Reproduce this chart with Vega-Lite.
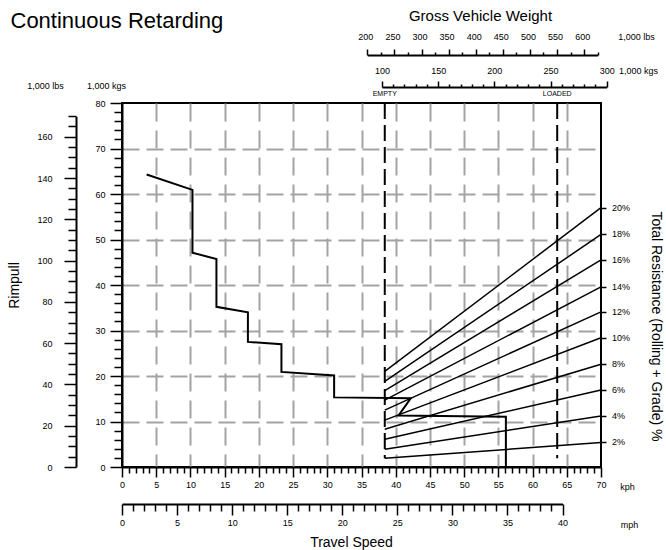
{
  "$schema": "https://vega.github.io/schema/vega-lite/v6.json",
  "width": 479,
  "height": 364,
  "autosize": {"type": "none"},
  "padding": {"left": 122, "top": 103, "right": 65, "bottom": 83},
  "background": "white",
  "config": {
    "view": {"stroke": "black", "strokeWidth": 2},
    "font": "Liberation Sans",
    "axis": {
      "labelFont": "Liberation Sans", "labelFontSize": 9, "labelColor": "black",
      "titleFont": "Liberation Sans", "titleFontWeight": "normal", "titleColor": "black", "titleFontSize": 9,
      "domainColor": "black", "domainWidth": 2, "tickColor": "black", "tickWidth": 1.5,
      "grid": false, "labelFlush": false, "labelOverlap": false,
      "titleAlign": "center", "titleBaseline": "middle"
    },
    "text": {"font": "Liberation Sans"}
  },
  "datasets": {
    "curve": [
      {"i": 1, "kph": 3.6, "kg": 64.3},
      {"i": 2, "kph": 10.3, "kg": 60.9},
      {"i": 3, "kph": 10.3, "kg": 47.1},
      {"i": 4, "kph": 13.8, "kg": 45.7},
      {"i": 5, "kph": 13.8, "kg": 35.2},
      {"i": 6, "kph": 18.4, "kg": 34.0},
      {"i": 7, "kph": 18.4, "kg": 27.5},
      {"i": 8, "kph": 23.3, "kg": 27.0},
      {"i": 9, "kph": 23.3, "kg": 20.9},
      {"i": 10, "kph": 31.0, "kg": 20.1},
      {"i": 11, "kph": 31.0, "kg": 15.3},
      {"i": 12, "kph": 42.2, "kg": 15.1},
      {"i": 13, "kph": 40.4, "kg": 11.3},
      {"i": 14, "kph": 56.1, "kg": 11.05},
      {"i": 15, "kph": 56.1, "kg": 0}
    ],
    "resistance": [
      {"grade": "20%", "kph": 38.4, "kg": 21.0}, {"grade": "20%", "kph": 70, "kg": 57.0},
      {"grade": "18%", "kph": 38.4, "kg": 18.8}, {"grade": "18%", "kph": 70, "kg": 51.1},
      {"grade": "16%", "kph": 38.4, "kg": 16.8}, {"grade": "16%", "kph": 70, "kg": 45.5},
      {"grade": "14%", "kph": 38.4, "kg": 14.7}, {"grade": "14%", "kph": 70, "kg": 39.6},
      {"grade": "12%", "kph": 38.4, "kg": 12.5}, {"grade": "12%", "kph": 70, "kg": 34.1},
      {"grade": "10%", "kph": 38.4, "kg": 10.3}, {"grade": "10%", "kph": 70, "kg": 28.4},
      {"grade": "8%", "kph": 38.4, "kg": 8.3}, {"grade": "8%", "kph": 70, "kg": 22.6},
      {"grade": "6%", "kph": 38.4, "kg": 6.1}, {"grade": "6%", "kph": 70, "kg": 16.9},
      {"grade": "4%", "kph": 38.4, "kg": 3.9}, {"grade": "4%", "kph": 70, "kg": 11.2},
      {"grade": "2%", "kph": 38.4, "kg": 1.9}, {"grade": "2%", "kph": 70, "kg": 5.4}
    ],
    "markers": [
      {"name": "EMPTY", "kph": 38.4, "top": 80, "bottom": 1.9},
      {"name": "LOADED", "kph": 63.6, "top": 80, "bottom": 1.9}
    ]
  },
  "layer": [
    {
      "data": {"name": "curve"},
      "mark": {"type": "line", "color": "black", "strokeWidth": 2, "strokeJoin": "miter"},
      "encoding": {
        "x": {"field": "kph", "type": "quantitative", "scale": {"domain": [0, 70], "nice": false},
          "axis": {"orient": "bottom",
            "values": [0,1,2,3,4,5,6,7,8,9,10,11,12,13,14,15,16,17,18,19,20,21,22,23,24,25,26,27,28,29,30,31,32,33,34,35,36,37,38,39,40,41,42,43,44,45,46,47,48,49,50,51,52,53,54,55,56,57,58,59,60,61,62,63,64,65,66,67,68,69,70],
            "tickSize": {"condition": {"test": "datum.value % 5 == 0", "value": 10}, "value": 6},
            "labelExpr": "datum.value % 5 == 0 ? datum.label : ''",
            "labelPadding": 3,
            "grid": true, "gridColor": "#a3a3a3", "gridWidth": 2, "gridDash": [18, 9],
            "gridOpacity": {"condition": {"test": "datum.value % 5 != 0 || datum.value == 0 || datum.value == 70", "value": 0}, "value": 1},
            "title": "kph", "titleAngle": 0, "titleX": 505, "titleY": 19}},
        "y": {"field": "kg", "type": "quantitative", "scale": {"domain": [0, 80], "nice": false},
          "axis": {"orient": "left",
            "values": [0,2,4,6,8,10,12,14,16,18,20,22,24,26,28,30,32,34,36,38,40,42,44,46,48,50,52,54,56,58,60,62,64,66,68,70,72,74,76,78,80],
            "tickSize": {"condition": {"test": "datum.value % 10 == 0", "value": 12}, "value": 8},
            "labelExpr": "datum.value % 10 == 0 ? datum.label : ''",
            "labelPadding": 5,
            "grid": true, "gridColor": "#a3a3a3", "gridWidth": 2, "gridDash": [17, 7],
            "gridOpacity": {"condition": {"test": "datum.value % 10 != 0 || datum.value == 0 || datum.value == 80", "value": 0}, "value": 1},
            "title": "1,000 kgs", "titleAngle": 0, "titleX": -16, "titleY": -18}},
        "order": {"field": "i", "type": "quantitative"}
      }
    },
    {
      "data": {"name": "resistance"},
      "mark": {"type": "line", "color": "black", "strokeWidth": 1.5},
      "encoding": {
        "x": {"field": "kph", "type": "quantitative", "scale": {"domain": [0, 70], "nice": false},
          "axis": {"orient": "bottom", "domain": false, "ticks": false, "labels": false,
            "title": "Travel Speed", "titleAngle": 0, "titleX": 229, "titleY": 75, "titleFontSize": 14}},
        "y": {"field": "kg", "type": "quantitative", "scale": {"domain": [0, 80], "nice": false},
          "axis": {"orient": "left", "domain": false, "ticks": false, "labels": false,
            "title": "Rimpull", "titleAngle": -90, "titleX": -108, "titleY": 182, "titleFontSize": 14}},
        "detail": {"field": "grade"}
      }
    },
    {
      "data": {"name": "markers"},
      "mark": {"type": "rule", "color": "black", "strokeWidth": 2, "strokeDash": [16, 6]},
      "encoding": {
        "x": {"field": "kph", "type": "quantitative", "scale": {"domain": [0, 70], "nice": false}, "axis": null},
        "y": {"field": "top", "type": "quantitative", "scale": {"domain": [0, 80], "nice": false}, "axis": null},
        "y2": {"field": "bottom"}
      }
    },
    {
      "data": {"name": "markers"},
      "mark": {"type": "text", "fontSize": 7, "dy": -9, "baseline": "middle", "align": "center", "color": "black"},
      "encoding": {
        "x": {"field": "kph", "type": "quantitative", "scale": {"domain": [0, 70], "nice": false}, "axis": null},
        "y": {"field": "top", "type": "quantitative", "scale": {"domain": [0, 80], "nice": false}, "axis": null},
        "text": {"field": "name"}
      }
    },
    {
      "data": {"name": "resistance"},
      "transform": [{"filter": "datum.kph == 70"}],
      "mark": {"type": "text", "fontSize": 9, "dx": 11, "align": "left", "baseline": "middle", "color": "black"},
      "encoding": {
        "x": {"field": "kph", "type": "quantitative", "scale": {"domain": [0, 70], "nice": false}, "axis": null},
        "y": {"field": "kg", "type": "quantitative", "scale": {"domain": [0, 80], "nice": false},
          "axis": {"orient": "right", "values": [57, 51.1, 45.5, 39.6, 34.1, 28.4, 22.6, 16.9, 11.2, 5.4],
            "labels": false, "domain": false, "tickSize": 5,
            "title": "Total Resistance (Rolling + Grade) %", "titleAngle": 90, "titleX": 54, "titleY": 223, "titleFontSize": 14}},
        "text": {"field": "grade"}
      }
    },
    {
      "data": {"values": [{"lbs": 0}, {"lbs": 170}]},
      "mark": {"type": "point", "opacity": 0},
      "encoding": {
        "y": {"field": "lbs", "type": "quantitative", "scale": {"domain": [0, 170], "range": [364, 13.15], "nice": false},
          "axis": {"orient": "left", "offset": 46,
            "values": [0,5,10,15,20,25,30,35,40,45,50,55,60,65,70,75,80,85,90,95,100,105,110,115,120,125,130,135,140,145,150,155,160,165,170],
            "tickSize": {"condition": {"test": "datum.value % 20 == 0", "value": 12}, "value": 8},
            "labelExpr": "datum.value % 20 == 0 ? datum.label : ''",
            "labelPadding": 12,
            "title": "1,000 lbs", "titleAngle": 0, "titleX": -31, "titleY": -18}}
      }
    },
    {
      "data": {"values": [{"mph": 0}, {"mph": 40}]},
      "mark": {"type": "point", "opacity": 0},
      "encoding": {
        "x": {"field": "mph", "type": "quantitative", "scale": {"domain": [0, 40], "range": [0, 440.5], "nice": false},
          "axis": {"orient": "bottom", "offset": 37,
            "values": [0,1,2,3,4,5,6,7,8,9,10,11,12,13,14,15,16,17,18,19,20,21,22,23,24,25,26,27,28,29,30,31,32,33,34,35,36,37,38,39,40],
            "tickSize": {"condition": {"test": "datum.value % 5 == 0", "value": 11}, "value": 7},
            "labelExpr": "datum.value % 5 == 0 ? datum.label : ''",
            "labelPadding": 3,
            "title": "mph", "titleAngle": 0, "titleX": 507, "titleY": 20}}
      }
    },
    {
      "data": {"values": [{"g": 200}, {"g": 625}]},
      "mark": {"type": "point", "opacity": 0},
      "encoding": {
        "x": {"field": "g", "type": "quantitative", "scale": {"domain": [200, 625], "range": [245.3, 475.7], "nice": false},
          "axis": {"orient": "top", "offset": 48,
            "values": [200,225,250,275,300,325,350,375,400,425,450,475,500,525,550,575,600,625],
            "tickSize": {"condition": {"test": "datum.value % 50 == 0", "value": 6}, "value": 3},
            "labelExpr": "datum.value % 50 == 0 ? datum.label : ''",
            "labelPadding": 8, "labelOffset": -2,
            "title": "1,000 lbs", "titleAngle": 0, "titleX": 514, "titleY": -19}}
      }
    },
    {
      "data": {"values": [{"g": 200}, {"g": 625}]},
      "mark": {"type": "point", "opacity": 0},
      "encoding": {
        "x": {"field": "g", "type": "quantitative", "scale": {"domain": [200, 625], "range": [245.3, 475.7], "nice": false},
          "axis": {"orient": "top", "offset": 48, "domain": false, "ticks": false, "labels": false,
            "title": "Gross Vehicle Weight", "titleAngle": 0, "titleX": 358, "titleY": -40, "titleFontSize": 15}}
      }
    },
    {
      "data": {"values": [{"k": 100}, {"k": 300}]},
      "mark": {"type": "point", "opacity": 0},
      "encoding": {
        "x": {"field": "k", "type": "quantitative", "scale": {"domain": [100, 300], "range": [260, 484.7], "nice": false},
          "axis": {"orient": "top", "offset": 16,
            "values": [100,110,120,130,140,150,160,170,180,190,200,210,220,230,240,250,260,270,280,290,300],
            "tickSize": {"condition": {"test": "datum.value % 50 == 0", "value": 6}, "value": 3},
            "labelExpr": "datum.value % 50 == 0 ? datum.label : ''",
            "labelPadding": 6,
            "title": "1,000 kgs", "titleAngle": 0, "titleX": 516, "titleY": -17}}
      }
    },
    {
      "data": {"values": [{"k": 100}, {"k": 300}]},
      "mark": {"type": "point", "opacity": 0},
      "encoding": {
        "x": {"field": "k", "type": "quantitative", "scale": {"domain": [100, 300], "range": [260, 484.7], "nice": false},
          "axis": {"orient": "top", "offset": 16, "domain": false, "ticks": false, "labels": false,
            "title": "Continuous Retarding", "titleAngle": 0, "titleX": -112, "titleY": -67, "titleAlign": "left", "titleFontSize": 22}}
      }
    }
  ],
  "resolve": {"scale": {"x": "independent", "y": "independent"}}
}
